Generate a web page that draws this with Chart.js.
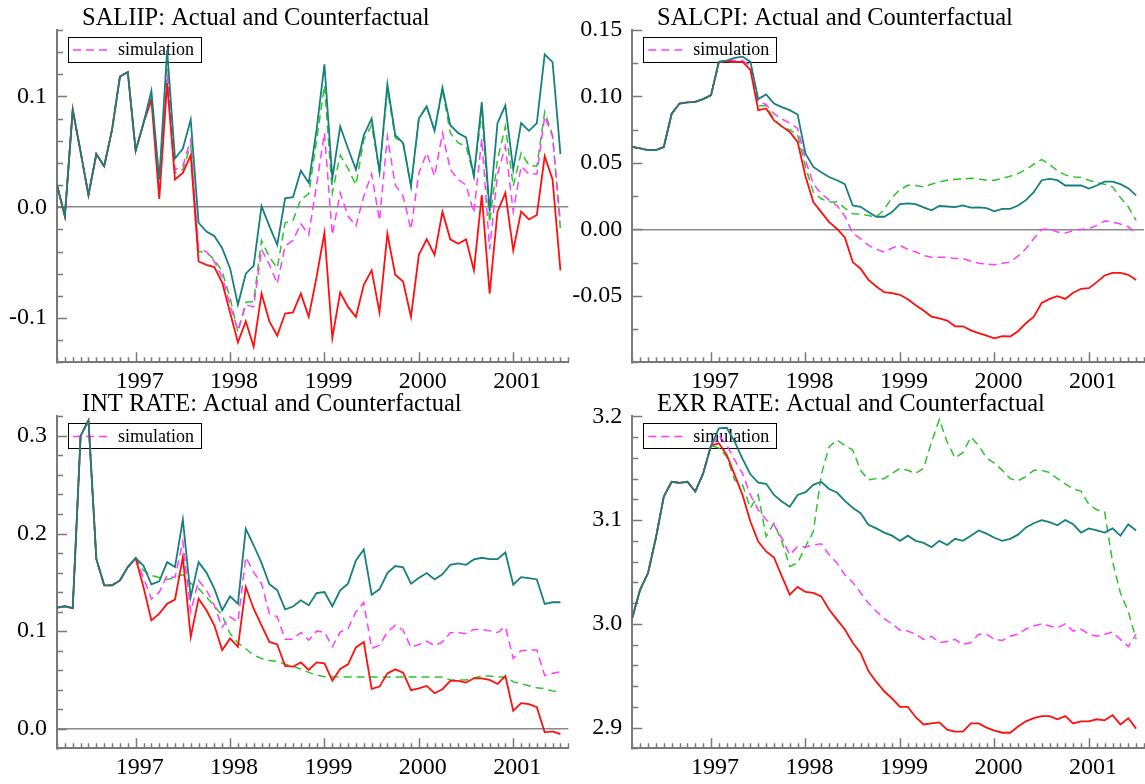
<!DOCTYPE html>
<html><head><meta charset="utf-8">
<script src="https://cdn.jsdelivr.net/npm/chart.js@4.4.1/dist/chart.umd.min.js"></script>
<style>
html,body{margin:0;padding:0;background:#fff;}
body{width:1145px;height:784px;position:relative;overflow:hidden;}
.panel{position:absolute;}
canvas{display:block;}
</style></head><body>
<div class="panel" style="left:0;top:0"><canvas id="c1" width="572" height="392"></canvas></div>
<div class="panel" style="left:572px;top:0"><canvas id="c2" width="573" height="392"></canvas></div>
<div class="panel" style="left:0;top:392px"><canvas id="c3" width="572" height="392"></canvas></div>
<div class="panel" style="left:572px;top:392px"><canvas id="c4" width="573" height="392"></canvas></div>
<script>
// ---- categories: monthly observations 1996M03 .. 2001M07 ----
const startYear = 1996, startMonth = 3, nObs = 65;
const months = [];
for (let k = 0; k < nObs + 1; k++) {
  const m = startMonth - 1 + k;
  months.push((startYear + Math.floor(m / 12)) + '-' + String(m % 12 + 1).padStart(2, '0'));
}
const yearLabels = ['1997', '1998', '1999', '2000', '2001'];
const seriesNames = ['actual', 'counterfactual', 'simulation', 'counterfactual 2'];
const legendLabel = 'simulation';

// ---- SALIIP ----
const saliipActual = [0.02,-0.008,0.088,0.05,0.011,0.048,0.037,0.07,0.118,0.122,0.051,0.076,0.105,0.025,0.142,0.044,0.053,0.079,-0.014,-0.022,-0.026,-0.037,-0.055,-0.088,-0.06,-0.053,0.001,-0.017,-0.034,0.008,0.009,0.033,0.022,0.07,0.129,0.026,0.073,0.053,0.034,0.065,0.08,0.032,0.111,0.065,0.058,0.019,0.08,0.091,0.069,0.108,0.074,0.067,0.063,0.028,0.095,-0.004,0.076,0.092,0.034,0.076,0.069,0.076,0.138,0.131,0.048];
const saliipCf = [0.02,-0.008,0.088,0.05,0.011,0.048,0.037,0.07,0.118,0.122,0.051,0.076,0.097,0.0075,0.112,0.025,0.031,0.047,-0.049,-0.052,-0.054,-0.068,-0.095,-0.122,-0.103,-0.126,-0.078,-0.103,-0.116,-0.096,-0.095,-0.078,-0.099,-0.063,-0.023,-0.118,-0.077,-0.09,-0.099,-0.07,-0.057,-0.095,-0.024,-0.061,-0.067,-0.099,-0.043,-0.029,-0.043,-0.004,-0.029,-0.033,-0.029,-0.057,0.011,-0.078,-0.004,0.013,-0.039,-0.004,-0.011,-0.007,0.046,0.025,-0.057];
const saliipSim = [0.02,-0.008,0.088,0.05,0.011,0.048,0.037,0.07,0.118,0.122,0.051,0.076,0.1,0.015,0.12,0.034,0.037,0.061,-0.038,-0.04,-0.049,-0.063,-0.088,-0.111,-0.088,-0.09,-0.038,-0.052,-0.069,-0.035,-0.03,-0.015,-0.025,0.02,0.067,-0.025,0.013,-0.008,-0.017,0.01,0.03,-0.012,0.064,0.02,0.01,-0.02,0.031,0.049,0.028,0.067,0.034,0.025,0.02,-0.005,0.062,-0.038,0.03,0.055,-0.004,0.037,0.03,0.03,0.082,0.064,-0.014];
const saliipCf2 = [0.02,-0.008,0.088,0.05,0.011,0.048,0.037,0.07,0.118,0.122,0.051,0.076,0.1,0.015,0.125,0.031,0.034,0.056,-0.04,-0.041,-0.047,-0.058,-0.082,-0.113,-0.086,-0.085,-0.03,-0.045,-0.055,-0.014,-0.012,0.007,0.012,0.06,0.11,0.013,0.047,0.035,0.02,0.061,0.074,0.032,0.106,0.063,0.058,0.019,0.08,0.091,0.069,0.106,0.067,0.058,0.055,0.028,0.086,-0.014,0.043,0.073,0.019,0.049,0.038,0.037,0.086,0.065,-0.02];
const saliipTicks = [-0.1, 0.0, 0.1];

// ---- SALCPI ----
const salcpiActual = [0.062,0.061,0.0597,0.0597,0.062,0.087,0.0947,0.0955,0.096,0.098,0.101,0.126,0.127,0.129,0.13,0.126,0.098,0.1015,0.0947,0.092,0.0897,0.0864,0.057,0.047,0.043,0.0394,0.037,0.034,0.018,0.017,0.013,0.0095,0.0095,0.013,0.019,0.0195,0.019,0.0165,0.0143,0.0176,0.0172,0.0168,0.018,0.0163,0.0165,0.016,0.0136,0.0155,0.0155,0.018,0.022,0.028,0.037,0.038,0.037,0.033,0.033,0.033,0.0307,0.033,0.036,0.036,0.034,0.031,0.0256];
const salcpiCf = [0.062,0.061,0.0597,0.0597,0.062,0.087,0.0947,0.0955,0.096,0.098,0.101,0.126,0.1265,0.126,0.126,0.12,0.0897,0.091,0.082,0.0775,0.0733,0.0658,0.04,0.0206,0.013,0.0055,0.0005,-0.006,-0.0246,-0.0296,-0.038,-0.043,-0.0473,-0.048,-0.0492,-0.0525,-0.057,-0.061,-0.0656,-0.067,-0.0686,-0.0729,-0.0729,-0.076,-0.078,-0.08,-0.082,-0.0803,-0.0806,-0.0766,-0.0706,-0.0656,-0.0553,-0.0523,-0.0503,-0.0523,-0.0477,-0.0447,-0.0442,-0.0397,-0.0347,-0.0327,-0.0327,-0.0342,-0.038];
const salcpiSim = [0.062,0.061,0.0597,0.0597,0.062,0.087,0.0947,0.0955,0.096,0.098,0.101,0.126,0.127,0.127,0.127,0.123,0.096,0.094,0.087,0.083,0.08,0.076,0.052,0.034,0.027,0.022,0.018,0.01,-0.003,-0.007,-0.012,-0.015,-0.017,-0.014,-0.012,-0.015,-0.017,-0.0196,-0.021,-0.021,-0.021,-0.022,-0.022,-0.024,-0.0254,-0.026,-0.0266,-0.0254,-0.0246,-0.02,-0.0146,-0.007,0,0.0005,-0.002,-0.0028,-0.001,0,0.0005,0.003,0.0063,0.0055,0.004,0.002,-0.0033];
const salcpiCf2 = [0.062,0.061,0.0597,0.0597,0.062,0.087,0.0947,0.0955,0.096,0.098,0.101,0.126,0.1265,0.126,0.126,0.124,0.093,0.093,0.083,0.077,0.075,0.071,0.047,0.028,0.023,0.0206,0.0206,0.016,0.0118,0.0115,0.0105,0.0093,0.015,0.024,0.03,0.0332,0.033,0.032,0.034,0.0357,0.037,0.0377,0.038,0.0384,0.038,0.037,0.037,0.0384,0.04,0.042,0.045,0.049,0.0525,0.049,0.044,0.041,0.0395,0.039,0.037,0.035,0.034,0.032,0.024,0.017,0.0068];
const salcpiTicks = [-0.05, 0.0, 0.05, 0.10, 0.15];

// ---- INT RATE ----
const intActual = [0.124,0.1255,0.1235,0.30,0.316,0.174,0.147,0.147,0.152,0.1656,0.1748,0.167,0.148,0.151,0.1707,0.1656,0.2143,0.135,0.1707,0.16,0.1435,0.1214,0.1357,0.128,0.2048,0.188,0.17,0.148,0.142,0.1224,0.1252,0.1316,0.1265,0.1391,0.1401,0.1255,0.1418,0.1487,0.1724,0.1837,0.1374,0.1429,0.1595,0.1667,0.1653,0.1487,0.1544,0.1595,0.153,0.1582,0.168,0.1694,0.168,0.1735,0.1752,0.1738,0.1738,0.1806,0.1476,0.1554,0.1544,0.153,0.1279,0.1296,0.1296];
const intCf = [0.124,0.1255,0.1235,0.30,0.316,0.174,0.147,0.147,0.152,0.1656,0.1748,0.145,0.111,0.118,0.128,0.1323,0.1758,0.094,0.1333,0.1214,0.106,0.0806,0.0925,0.084,0.1452,0.123,0.106,0.089,0.0864,0.0643,0.0636,0.068,0.0602,0.068,0.067,0.0493,0.0612,0.066,0.0833,0.0888,0.0408,0.0432,0.0568,0.0609,0.0575,0.0395,0.0415,0.0439,0.0364,0.0405,0.049,0.049,0.0473,0.0517,0.0517,0.05,0.0459,0.0541,0.0184,0.0262,0.0252,0.0221,-0.0037,-0.0027,-0.0054];
const intSim = [0.124,0.1255,0.1235,0.30,0.316,0.174,0.147,0.147,0.152,0.1656,0.1748,0.155,0.133,0.14,0.157,0.155,0.1918,0.12,0.152,0.142,0.1265,0.104,0.1146,0.1095,0.1758,0.1605,0.1487,0.118,0.1146,0.0918,0.0918,0.0986,0.0908,0.1,0.099,0.084,0.099,0.1027,0.1197,0.1293,0.0823,0.0857,0.099,0.1061,0.101,0.0833,0.0864,0.0898,0.085,0.0891,0.0983,0.0983,0.0976,0.1017,0.1017,0.1003,0.0986,0.1044,0.0721,0.0799,0.0806,0.0806,0.0544,0.0568,0.0585];
const intCf2 = [0.124,0.1255,0.1235,0.30,0.316,0.174,0.147,0.147,0.152,0.1656,0.1748,0.162,0.157,0.155,0.153,0.155,0.158,0.149,0.1435,0.135,0.126,0.116,0.0976,0.088,0.082,0.0755,0.072,0.07,0.069,0.066,0.0643,0.0609,0.0578,0.055,0.0534,0.053,0.053,0.053,0.053,0.053,0.053,0.053,0.053,0.053,0.053,0.053,0.053,0.053,0.053,0.053,0.05,0.05,0.05,0.052,0.0541,0.054,0.053,0.053,0.0483,0.046,0.044,0.042,0.041,0.0388,0.0381];
const intTicks = [0.0, 0.1, 0.2, 0.3];

// ---- EXR RATE ----
const exrActual = [3.0058,3.033,3.049,3.083,3.1227,3.137,3.136,3.137,3.1275,3.145,3.172,3.1885,3.189,3.1756,3.159,3.1442,3.1362,3.135,3.1243,3.118,3.113,3.1243,3.127,3.134,3.137,3.13,3.1266,3.1186,3.112,3.1067,3.0955,3.092,3.088,3.085,3.08,3.085,3.08,3.078,3.074,3.08,3.076,3.082,3.08,3.085,3.09,3.087,3.083,3.08,3.082,3.086,3.093,3.097,3.1,3.098,3.095,3.1,3.096,3.088,3.092,3.09,3.088,3.092,3.085,3.096,3.09];
const exrCf = [3.0058,3.033,3.049,3.083,3.1227,3.137,3.136,3.137,3.1275,3.145,3.172,3.174,3.1628,3.1436,3.1243,3.0987,3.0794,3.0698,3.064,3.0458,3.0282,3.0356,3.0308,3.0298,3.0265,3.0138,3.0041,2.9945,2.9817,2.972,2.9544,2.944,2.935,2.928,2.92,2.92,2.91,2.903,2.904,2.905,2.898,2.896,2.896,2.904,2.904,2.9,2.897,2.895,2.895,2.901,2.906,2.909,2.911,2.911,2.908,2.911,2.904,2.906,2.906,2.908,2.907,2.912,2.903,2.909,2.899];
const exrSim = [3.0058,3.033,3.049,3.083,3.1227,3.137,3.136,3.137,3.1275,3.145,3.172,3.182,3.1724,3.158,3.145,3.1243,3.11,3.1003,3.0955,3.0827,3.0666,3.0746,3.074,3.076,3.0772,3.0666,3.0587,3.0474,3.04,3.03,3.02,3.012,3.005,3.0,2.994,2.993,2.99,2.985,2.988,2.982,2.983,2.985,2.98,2.982,2.99,2.99,2.985,2.984,2.988,2.99,2.995,2.998,3.0,2.998,2.996,3.0,2.993,2.995,2.99,2.988,2.99,2.992,2.985,2.978,2.99];
const exrCf2 = [3.0058,3.033,3.049,3.083,3.1227,3.137,3.136,3.137,3.1275,3.145,3.172,3.1695,3.161,3.1387,3.134,3.1115,3.1243,3.0842,3.097,3.0794,3.0554,3.0587,3.0746,3.089,3.1436,3.1708,3.1772,3.172,3.1676,3.148,3.1388,3.14,3.14,3.145,3.15,3.148,3.145,3.15,3.175,3.197,3.175,3.16,3.165,3.18,3.172,3.16,3.155,3.148,3.14,3.138,3.142,3.148,3.148,3.146,3.14,3.135,3.13,3.128,3.115,3.11,3.108,3.06,3.03,3.012,2.985];
const exrTicks = [2.9, 3.0, 3.1, 3.2];

// ---- styling ----
const FONT = '"Liberation Serif", "Times New Roman", serif';
const AXIS = '#7a7a7a';
const styles = [
  {color: '#16807f', dash: [], width: 1.8},
  {color: '#ff0f0f', dash: [], width: 1.8},
  {color: '#ff3cff', dash: [8, 5], width: 1.5},
  {color: '#2ec42e', dash: [8, 5], width: 1.5}
];

const panels = [
  {id: 'c1', title: 'SALIIP: Actual and Counterfactual', series: [saliipActual, saliipCf, saliipSim, saliipCf2], ticks: saliipTicks, min: -0.14, max: 0.16, minor: 0.02, dec: 1, yW: 57, padR: 3.7, padT: 30, xH: 29.7, titleX: 82, titleY: 24.5},
  {id: 'c2', title: 'SALCPI: Actual and Counterfactual', series: [salcpiActual, salcpiCf, salcpiSim, salcpiCf2], ticks: salcpiTicks, min: -0.10, max: 0.15, minor: 0.025, dec: 2, yW: 60.3, padR: 1, padT: 30, xH: 29.7, titleX: 85, titleY: 24.5},
  {id: 'c3', title: 'INT RATE: Actual and Counterfactual', series: [intActual, intCf, intSim, intCf2], ticks: intTicks, min: -0.02, max: 0.32, minor: 0.02, dec: 1, yW: 57, padR: 3.7, padT: 23.7, xH: 35.7, titleX: 82, titleY: 18.5},
  {id: 'c4', title: 'EXR RATE: Actual and Counterfactual', series: [exrActual, exrCf, exrSim, exrCf2], ticks: exrTicks, min: 2.88, max: 3.2, minor: 0.02, dec: 1, yW: 60.3, padR: 1, padT: 23.7, xH: 35.7, titleX: 85, titleY: 18.5}
];

const yearIdx = yearLabels.map(y => months.indexOf(y + '-01'));

const decoPlugin = {
  id: 'deco',
  beforeDatasetsDraw(chart, args, opts) {
    const p = opts.panel;
    const ctx = chart.ctx, ca = chart.chartArea;
    const xs = chart.scales.x, ys = chart.scales.y;
    ctx.save();
    ctx.strokeStyle = AXIS; ctx.lineWidth = 1.5; ctx.setLineDash([]);
    ctx.beginPath();
    const nMinor = Math.round((p.max - p.min) / p.minor);
    for (let k = 0; k <= nMinor; k++) {
      const v = p.min + k * p.minor;
      const y = Math.round(ys.getPixelForValue(v)) + 0.5;
      const major = p.ticks.some(t => Math.abs(t - v) < 1e-9);
      const len = major ? 10 : 6;
      ctx.moveTo(ca.left, y); ctx.lineTo(ca.left + len, y);
    }
    for (let i = 0; i <= nObs; i++) {
      const x = Math.round(xs.getPixelForValue(i)) + 0.5;
      const len = months[i].endsWith('-01') ? 10 : 5;
      ctx.moveTo(x, ca.bottom); ctx.lineTo(x, ca.bottom - len);
    }
    ctx.stroke();
    // legend box (drawn beneath the series, transparent)
    const bx = ca.left + 11, by = ca.top + 7, bw = 133, bh = 25;
    ctx.strokeStyle = '#000'; ctx.lineWidth = 1;
    ctx.strokeRect(Math.round(bx) + 0.5, Math.round(by) + 0.5, bw, bh);
    const st = styles[2];
    ctx.strokeStyle = st.color; ctx.lineWidth = st.width; ctx.setLineDash(st.dash);
    ctx.beginPath();
    ctx.moveTo(bx + 5, by + bh / 2 + 0.5); ctx.lineTo(bx + 44, by + bh / 2 + 0.5);
    ctx.stroke();
    ctx.setLineDash([]);
    ctx.fillStyle = '#000';
    ctx.font = '18px ' + FONT;
    ctx.textBaseline = 'middle'; ctx.textAlign = 'left';
    ctx.fillText(legendLabel, bx + 50, by + bh / 2 + 1);
    // title
    ctx.font = '24.5px ' + FONT;
    ctx.textBaseline = 'alphabetic';
    ctx.fillText(p.title, p.titleX, p.titleY);
    ctx.restore();
  }
};

panels.forEach(p => {
  const datasets = p.series.map((arr, s) => ({
    label: seriesNames[s],
    data: arr.map((v, i) => ({x: i, y: v})),
    borderColor: styles[s].color,
    borderWidth: styles[s].width,
    borderDash: styles[s].dash,
    pointRadius: 0,
    tension: 0,
    fill: false
  }));
  new Chart(document.getElementById(p.id), {
    type: 'line',
    data: {datasets},
    plugins: [decoPlugin],
    options: {
      responsive: false,
      animation: false,
      devicePixelRatio: 1,
      layout: {padding: {top: p.padT, right: p.padR, left: 0, bottom: 0}},
      plugins: {legend: {display: false}, tooltip: {enabled: false}, title: {display: false}, deco: {panel: p}},
      scales: {
        x: {
          type: 'linear', min: 0, max: nObs,
          afterFit(s) { s.height = p.xH; },
          afterBuildTicks(s) { s.ticks = yearIdx.map(v => ({value: v})); },
          ticks: {
            callback: v => months[v] ? months[v].slice(0, 4) : '',
            font: {family: FONT, size: 24}, color: '#000', padding: 5, labelOffset: 4,
            maxRotation: 0, autoSkip: false
          },
          grid: {display: false, drawTicks: false},
          border: {display: true, color: AXIS, width: 2}
        },
        y: {
          min: p.min, max: p.max,
          afterFit(s) { s.width = p.yW; },
          afterBuildTicks(s) { s.ticks = p.ticks.map(v => ({value: v})); },
          ticks: {
            callback: v => Number(v).toFixed(p.dec),
            font: {family: FONT, size: 24}, color: '#000', padding: 10
          },
          grid: {
            drawTicks: false, drawOnChartArea: true, lineWidth: 1.5,
            color: c => (c.tick && Math.abs(c.tick.value) < 1e-9) ? '#8a8a8a' : 'rgba(0,0,0,0)'
          },
          border: {display: true, color: AXIS, width: 2}
        }
      }
    }
  });
});
</script>
</body></html>
